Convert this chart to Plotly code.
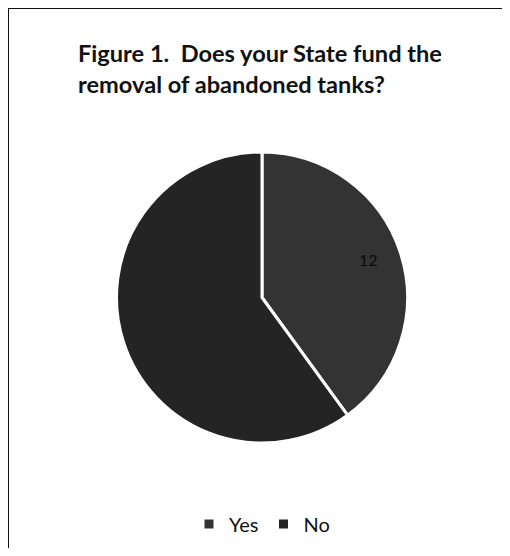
import math
import plotly.graph_objects as go

categories = ["Yes", "No"]
values = [12, 18]
slice_colors = ["#333333", "#242424"]

title_lines = ["Figure 1.  Does your State fund the", "removal of abandoned tanks?"]

W, H = 494, 540   # page body has 8px margin
OFF = 8

def px(x):
    return (x - OFF) / W

def py(y):
    return 1 - (y - OFF) / H

pie_x = [px(116), px(408)]
pie_y = [py(443), py(152)]

fig = go.Figure()
fig.add_trace(go.Pie(
    labels=categories,
    values=values,
    textinfo="none",
    sort=False,
    direction="clockwise",
    rotation=0,
    marker=dict(colors=slice_colors, line=dict(color="white", width=3)),
    domain=dict(x=pie_x, y=pie_y),
    hoverinfo="label+value",
))

# value label for the Yes slice, at its mid-angle
total = sum(values)
mid = values[0] / total * math.pi
cx = (pie_x[0] + pie_x[1]) / 2 * W
cy = (pie_y[0] + pie_y[1]) / 2 * H
r = (pie_x[1] - pie_x[0]) * W / 2
lab_x = (cx + 0.85 * r * math.sin(mid)) / W
lab_y = (cy + 0.85 * r * math.cos(mid)) / H

fig.update_layout(
    width=W, height=H,
    margin=dict(l=0, r=0, t=0, b=0),
    paper_bgcolor="white",
    plot_bgcolor="white",
    showlegend=True,
    legend=dict(
        orientation="h",
        x=px(262), xanchor="center",
        y=py(524), yanchor="middle",
        font=dict(family="Lato", size=20, color="#111"),
    ),
    annotations=[
        dict(text="<b>" + title_lines[0] + "</b>", x=px(76), y=py(53),
             xref="paper", yref="paper", xanchor="left", yanchor="middle",
             showarrow=False, font=dict(family="Lato", size=23.6, color="#111")),
        dict(text="<b>" + title_lines[1] + "</b>", x=px(76), y=py(84),
             xref="paper", yref="paper", xanchor="left", yanchor="middle",
             showarrow=False, font=dict(family="Lato", size=23.6, color="#111")),
        dict(text=str(values[0]), x=lab_x, y=lab_y, xref="paper", yref="paper",
             showarrow=False, font=dict(family="Lato", size=16, color="#0a0a0a")),
    ],
    shapes=[
        dict(type="rect", xref="paper", yref="paper",
             x0=px(8), x1=px(504), y0=-0.05, y1=py(8),
             line=dict(color="#111", width=2), fillcolor="rgba(0,0,0,0)"),
    ],
)

fig.write_html("out.html")
